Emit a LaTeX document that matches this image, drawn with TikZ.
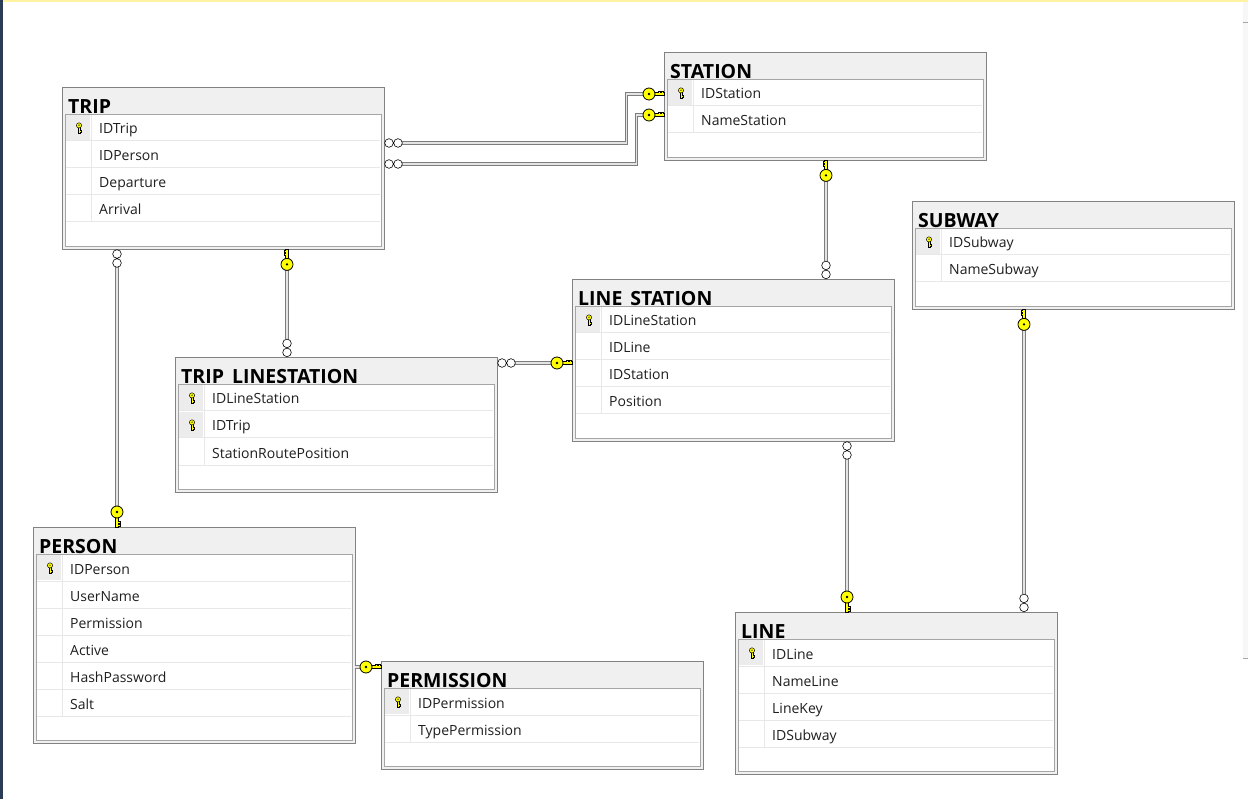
\documentclass[tikz,border=0pt]{standalone}
\usepackage{fontspec}
\setmainfont{Open Sans}
\usepackage{tikz}
\usetikzlibrary{calc}
\definecolor{hdr}{RGB}{240,240,240}
\definecolor{hdrline}{RGB}{130,130,130}
\definecolor{inline}{RGB}{165,165,165}
\definecolor{sepc}{RGB}{232,232,232}
\definecolor{kcell}{RGB}{236,236,236}
\definecolor{keyy}{RGB}{255,255,0}
\definecolor{relc}{RGB}{125,125,125}
\definecolor{reld}{RGB}{228,228,228}
\definecolor{edgeb}{RGB}{43,58,85}
\definecolor{topy}{RGB}{255,242,160}

\begin{document}
\begin{tikzpicture}[x=1pt,y=-1pt,
  tbl/.style={draw=hdrline,fill=hdr,anchor=north west,minimum width=322pt,inner sep=0pt},
  ttl/.style={anchor=base west,inner sep=0pt,font=\fontsize{19.5}{19.5}\selectfont\bfseries},
  inbox/.style={draw=inline,fill=white,anchor=north west,minimum width=316pt,inner sep=0pt},
  fld/.style={anchor=base west,inner sep=0pt,text=black!88,font=\fontsize{14}{14}\selectfont},
  sep/.style={draw=sepc,line width=1pt},
  rel/.style={draw=relc,double=reld,double distance=1.6pt,line width=0.9pt},
  skey/.pic={\draw[fill=keyy,line width=0.5pt] (-1,-1) -- (-1,5) -- (1.2,5) -- (1.2,3.8) -- (2.4,3.8) -- (2.4,2.6) -- (1.2,2.6) -- (1.2,-1) -- cycle;
    \draw[fill=keyy,line width=0.5pt] (0,-2.6) circle (2.6);
    \fill (0,-2.8) circle (0.7);},
  fkey/.pic={\draw[fill=keyy,line width=0.7pt] (0,-1.6) -- (9.5,-1.6) -- (9.5,1.6) -- (5.5,1.6) -- (5.5,3) -- (4,3) -- (4,1.6) -- (2.5,1.6) -- (2.5,3) -- (1,3) -- (1,1.6) -- (0,1.6) -- cycle;
    \draw[fill=keyy,line width=0.8pt] (15,0) circle (6);
    \fill (15,0) circle (1.3);},
  many/.pic={\draw[fill=white,line width=0.6pt] (4.6,0) circle (4.3) (13.6,0) circle (4.3);}]
\newcommand{\tbl}[6]{%
  \node[tbl,minimum height={54+27*#4}] (#1) at (#2,#3) {};
  \node[ttl] (#1-t) at ($(#1.north west)+(6,26.5)$) {#5};
  \node[inbox,minimum height={24+27*#4}] (#1-b) at ($(#1.north west)+(3,27)$) {};
  \foreach \kk/\fn [count=\rw] in {#6} {
    \draw[sep] ($(#1.north west)+(4,27+27*\rw)$) -- ++(314,0);
    \ifnum\kk=1
      \fill[kcell] ($(#1.north west)+(4,1+27*\rw)$) rectangle ++(24,25);
      \pic at ($(#1.north west)+(17,14+27*\rw)$) {skey};
    \fi
    \node[fld] (#1-\rw) at ($(#1.north west)+(37,20+27*\rw)$) {\fn};
  }
  \draw[sep] ($(#1.north west)+(29,28)$) -- ++(0,27*#4-1);
}
\useasboundingbox (0,0) rectangle (1248,799);
\fill[white] (0,0) rectangle (1248,799);
\fill[edgeb] (0,0) rectangle (3,799);
\fill[topy] (3,0) rectangle (1248,2);
\fill[gray!6] (1243,2) rectangle (1248,658);
\draw[gray!70] (1243,22) -- (1248,22) (1243,658) -- (1248,658);

\tbl{trip}{62}{87}{4}{TRIP}{1/IDTrip,0/IDPerson,0/Departure,0/Arrival}
\tbl{station}{664}{52}{2}{STATION}{1/IDStation,0/NameStation}
\tbl{subway}{912}{201}{2}{SUBWAY}{1/IDSubway,0/NameSubway}
\tbl{ls}{572}{279}{4}{LINE\textunderscore STATION}{1/IDLineStation,0/IDLine,0/IDStation,0/Position}
\tbl{tls}{175}{357}{3}{TRIP\textunderscore LINESTATION}{1/IDLineStation,1/IDTrip,0/StationRoutePosition}
\tbl{person}{33}{527}{6}{PERSON}{1/IDPerson,0/UserName,0/Permission,0/Active,0/HashPassword,0/Salt}
\tbl{perm}{381}{661}{2}{PERMISSION}{1/IDPermission,0/TypePermission}
\tbl{line}{735}{612}{4}{LINE}{1/IDLine,0/NameLine,0/LineKey,0/IDSubway}

\coordinate (a1) at ($(trip.north east)+(0,56)$);
\coordinate (b1) at ($(station.north west)+(0,42)$);
\coordinate (a2) at ($(trip.north east)+(0,77)$);
\coordinate (b2) at ($(station.north west)+(0,63)$);
\coordinate (a3) at ($(station.south west)+(162,0)$);
\coordinate (b3) at ($(ls.north west)+(254,0)$);
\coordinate (a4) at ($(trip.south west)+(55,0)$);
\coordinate (b4) at ($(person.north west)+(84,0)$);
\coordinate (a5) at ($(trip.south west)+(225,0)$);
\coordinate (b5) at ($(tls.north west)+(112,0)$);
\coordinate (a6) at ($(tls.north east)+(0,6)$);
\coordinate (b6) at ($(ls.north west)+(0,84)$);
\coordinate (a7) at ($(ls.south west)+(275,0)$);
\coordinate (b7) at ($(line.north west)+(112,0)$);
\coordinate (a8) at ($(subway.south west)+(112,0)$);
\coordinate (b8) at ($(line.north west)+(289,0)$);
\coordinate (a9) at ($(person.north east)+(0,140)$);
\coordinate (b9) at ($(perm.north west)+(0,6)$);

\draw[rel,shorten <=18pt,shorten >=20pt] (a1) -- ++(242,0) |- (b1);
\draw[rel,shorten <=18pt,shorten >=20pt] (a2) -- ++(252,0) |- (b2);
\draw[rel,shorten <=20pt,shorten >=18pt] (a3) -- (b3);
\draw[rel,shorten <=18pt,shorten >=20pt] (a4) -- (b4);
\draw[rel,shorten <=20pt,shorten >=18pt] (a5) -- (b5);
\draw[rel,shorten <=18pt,shorten >=20pt] (a6) -- (b6);
\draw[rel,shorten <=18pt,shorten >=20pt] (a7) -- (b7);
\draw[rel,shorten <=20pt,shorten >=18pt] (a8) -- (b8);
\draw[rel,shorten >=20pt] (a9) -- (b9);

\pic at (a1) {many};
\pic[rotate=180] at (b1) {fkey};
\pic at (a2) {many};
\pic[rotate=180] at (b2) {fkey};
\pic[rotate=-90] at (a3) {fkey};
\pic[rotate=90] at (b3) {many};
\pic[rotate=-90] at (a4) {many};
\pic[rotate=90] at (b4) {fkey};
\pic[rotate=-90] at (a5) {fkey};
\pic[rotate=90] at (b5) {many};
\pic at (a6) {many};
\pic[rotate=180] at (b6) {fkey};
\pic[rotate=-90] at (a7) {many};
\pic[rotate=90] at (b7) {fkey};
\pic[rotate=-90] at (a8) {fkey};
\pic[rotate=90] at (b8) {many};
\pic[rotate=180] at (b9) {fkey};
\end{tikzpicture}
\end{document}
